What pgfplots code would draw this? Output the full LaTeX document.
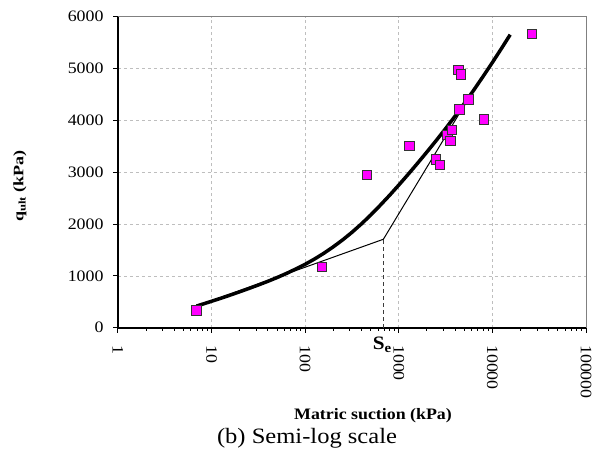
\documentclass[border=0pt]{standalone}
\usepackage{fontspec}
\setmainfont{Liberation Serif}[FakeStretch=1.12]
\newfontfamily\ylabfont{Liberation Serif}[FakeStretch=1.25]
\usepackage{pgfplots}
\pgfplotsset{compat=1.18}
\definecolor{mag}{RGB}{255,0,255}
\definecolor{gridgray}{RGB}{190,190,190}
\definecolor{dashgray}{RGB}{60,60,60}
\begin{document}
\begin{tikzpicture}[x=1bp,y=1bp]
\path[use as bounding box] (-118,-125.3) rectangle (475,327.7);
\begin{axis}[
  at={(0,0)}, anchor=south west,
  scale only axis, width=468bp, height=311bp,
  xmode=log, log basis x=10,
  xmin=1, xmax=100000, ymin=0, ymax=6000,
  xtick={1,10,100,1000,10000,100000},
  xticklabels={1,10,100,1000,10000,100000},
  minor xtick={2,3,4,5,6,7,8,9,20,30,40,50,60,70,80,90,200,300,400,500,600,700,800,900,2000,3000,4000,5000,6000,7000,8000,9000,20000,30000,40000,50000,60000,70000,80000,90000},
  ytick={0,1000,2000,3000,4000,5000,6000},
  yticklabels={0,1000,2000,3000,4000,5000,6000},
  xtick pos=bottom, ytick pos=left,
  tick align=outside,
  major tick length=5bp, minor tick length=3bp,
  tick style={black, line width=1bp},
  xmajorgrids, ymajorgrids,
  major grid style={dashed, gridgray, line width=0.7bp},
  axis line style={gray, line width=0.8bp},
  ticklabel style={font=\fontsize{16}{16}\selectfont},
  xticklabel style={yshift=-9bp, rotate=-90, anchor=west},
  yticklabel style={xshift=-6bp},
  clip=false,
]
\draw[black, line width=1.8bp] (rel axis cs:0,1) -- (rel axis cs:0,0) -- (rel axis cs:1,0);
\addplot[only marks, mark=square*, mark size=4.7bp,
  mark options={fill=mag, draw=black!80, line width=0.9bp}] coordinates {
  (6.9,336) (151,1170) (460,2946) (1295,3512) (2500,3249) (2760,3139)
  (3300,3718) (3670,3814) (3580,3608) (4440,4214) (5530,4407) (8130,4021)
  (4330,4972) (4620,4889) (26300,5670)
};
\addplot[black, line width=1bp] coordinates {(6.9,418) (684,1706) (4600,4180)};
\addplot[dashgray, line width=1.6bp, dash pattern=on 4bp off 3bp] coordinates {(684,0) (684,1706)};
\addplot[black, line width=3.5bp, line join=round] coordinates {
  (6.92,418) (7.94,452) (10,510) (12.59,569) (15.85,630) (19.95,693)
  (25.12,758) (31.62,825) (39.81,894) (50.12,968) (63.10,1047) (79.43,1133)
  (100,1224) (125.9,1325) (158.5,1437) (199.5,1560) (251.2,1694) (316.2,1841)
  (398.1,2001) (501.2,2174) (631.0,2359) (794.3,2551) (1000,2752) (1259,2959)
  (1585,3172) (1995,3389) (2512,3612) (3162,3841) (3981,4079) (5012,4326)
  (6310,4582) (7943,4846) (10000,5117) (12589,5396) (15488,5653)
};
\node[anchor=north, inner sep=0pt] at (axis cs:684,0) [yshift=-9bp, xshift=-1bp] {\fontsize{19}{19}\selectfont\bfseries S\textsubscript{e}};
\end{axis}
\node at (255,-88.3) {\fontsize{16}{16}\selectfont\bfseries Matric suction (kPa)};
\node[rotate=90] at (-98,141.7) {\fontsize{14.5}{14.5}\selectfont\ylabfont\bfseries q\textsubscript{ult} (kPa)};
\node at (189,-111) {\fontsize{22}{22}\selectfont (b) Semi-log scale};
\end{tikzpicture}
\end{document}
